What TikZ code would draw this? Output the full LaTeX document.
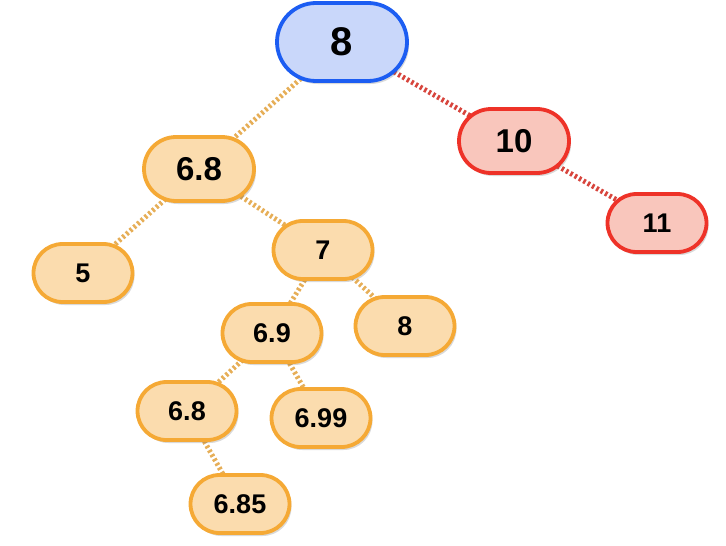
\documentclass[tikz,border=0pt]{standalone}
\usepackage{fontspec}
\setmainfont{Liberation Sans}
\usetikzlibrary{shadows, backgrounds}
\definecolor{azulborde}{HTML}{1C5DF2}
\definecolor{azulfondo}{HTML}{C9D7FA}
\definecolor{rojoborde}{HTML}{EE3228}
\definecolor{rojofondo}{HTML}{F9C6BC}
\definecolor{narborde}{HTML}{F5A935}
\definecolor{narfondo}{HTML}{FBDCAE}
\definecolor{narlinea}{HTML}{E6AE57}
\definecolor{rojolinea}{HTML}{D7453D}
\tikzset{
    caja/.style={draw, inner sep=0pt, line width=3.8pt, font=\bfseries,
        drop shadow={shadow xshift=2pt, shadow yshift=-3pt, opacity=0.25, fill=black!60}},
    raiz/.style={caja, draw=azulborde, fill=azulfondo, minimum width=130pt, minimum height=78pt,
        rounded corners=39pt, font=\bfseries\fontsize{40}{40}\selectfont},
    mayor/.style={caja, draw=rojoborde, fill=rojofondo},
    menor/.style={caja, draw=narborde, fill=narfondo},
    grande/.style={minimum width=110pt, minimum height=64pt, rounded corners=32pt,
        font=\bfseries\fontsize{33}{33}\selectfont},
    chica/.style={minimum width=99pt, minimum height=58pt, rounded corners=29pt,
        font=\bfseries\fontsize{27}{27}\selectfont},
    ramanar/.style={draw=narlinea, line width=5pt, dash pattern=on 2.5pt off 2.5pt},
    ramaroja/.style={draw=rojolinea, line width=5pt, dash pattern=on 2.5pt off 2.5pt},
}
\begin{document}
\begin{tikzpicture}[x=1pt, y=-1pt]
\useasboundingbox (0,0) rectangle (726,546);
% raiz
\node[raiz] (r8) at (342,42) {8};
% rama derecha
\node[mayor, grande] (r10) at (514,141) {10};
\node[mayor, chica] (r11) at (657,223) {11};
% rama izquierda
\node[menor, grande] (a68) at (199,169) {6.8};
\node[menor, chica] (a5) at (83,273) {5};
\node[menor, chica] (a7) at (323,250) {7};
\node[menor, chica] (a8) at (405,326) {8};
\node[menor, chica] (a69) at (272,333) {6.9};
\node[menor, chica] (b68) at (187,411) {6.8};
\node[menor, chica] (a699) at (321,418) {6.99};
\node[menor, chica] (a685) at (240,504) {6.85};
% aristas
\begin{pgfonlayer}{background}
\draw[ramaroja] (r8.center) -- (r10.center);
\draw[ramaroja] (r10.center) -- (r11.center);
\draw[ramanar] (r8.center) -- (a68.center);
\draw[ramanar] (a68.center) -- (a5.center);
\draw[ramanar] (a68.center) -- (a7.center);
\draw[ramanar] (a7.center) -- (a69.center);
\draw[ramanar] (a7.center) -- (a8.center);
\draw[ramanar] (a69.center) -- (b68.center);
\draw[ramanar] (a69.center) -- (a699.center);
\draw[ramanar] (b68.center) -- (a685.center);
\end{pgfonlayer}
\end{tikzpicture}
\end{document}
